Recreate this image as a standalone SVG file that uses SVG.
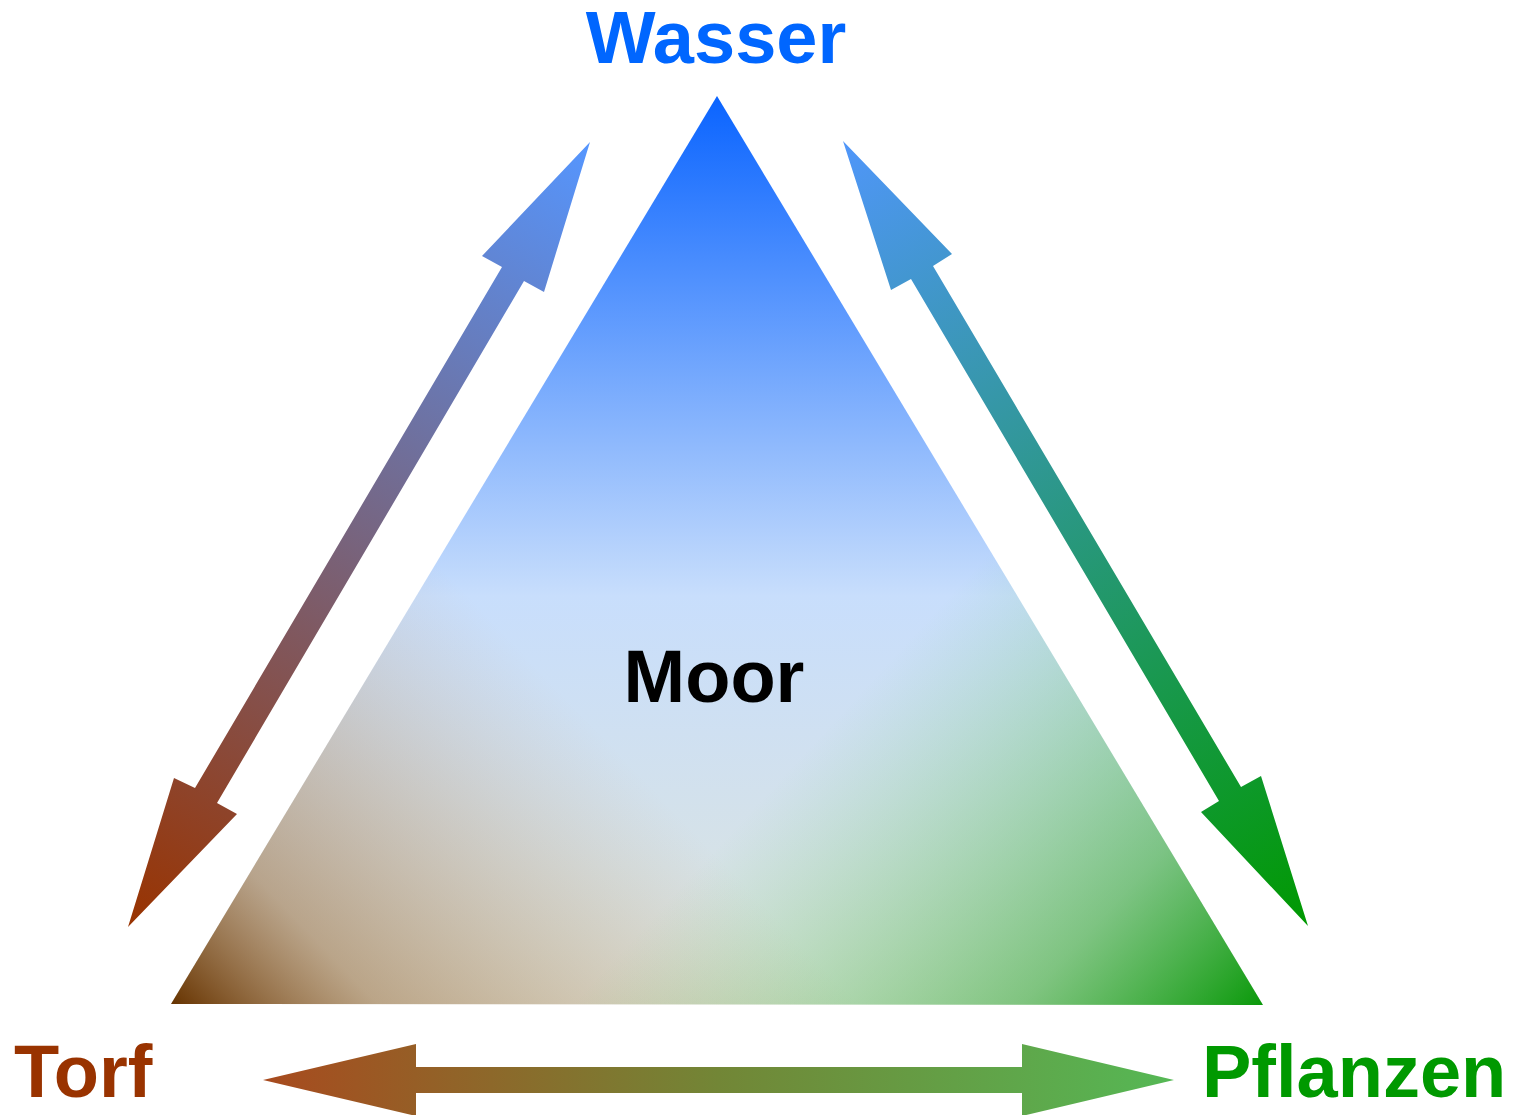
<svg xmlns="http://www.w3.org/2000/svg" width="1516" height="1115" viewBox="0 0 1516 1115">
<style>
.lbl{font-family:"Liberation Sans",Arial,sans-serif;font-weight:bold;font-size:74px}
</style>
<defs>
<linearGradient id="gBase" gradientUnits="userSpaceOnUse" x1="0" y1="96" x2="0" y2="1005">
<stop offset="0" stop-color="#0a64ff"/>
<stop offset="0.55" stop-color="#c8defc"/>
<stop offset="1" stop-color="#dde4dc"/>
</linearGradient>
<linearGradient id="gBrown" gradientUnits="userSpaceOnUse" x1="171" y1="1004" x2="530" y2="660">
<stop offset="0" stop-color="#663300" stop-opacity="1"/>
<stop offset="0.3" stop-color="#996633" stop-opacity="0.5"/>
<stop offset="1" stop-color="#cc9966" stop-opacity="0"/>
</linearGradient>
<linearGradient id="gGreen" gradientUnits="userSpaceOnUse" x1="1263" y1="1005" x2="890" y2="660">
<stop offset="0" stop-color="#0a990a" stop-opacity="1"/>
<stop offset="0.35" stop-color="#33aa33" stop-opacity="0.55"/>
<stop offset="1" stop-color="#66cc66" stop-opacity="0"/>
</linearGradient>
<linearGradient id="gLeft" gradientUnits="userSpaceOnUse" x1="590" y1="142" x2="128" y2="927">
<stop offset="0" stop-color="#5596ff"/>
<stop offset="1" stop-color="#993300"/>
</linearGradient>
<linearGradient id="gRight" gradientUnits="userSpaceOnUse" x1="843" y1="141" x2="1308" y2="926">
<stop offset="0" stop-color="#5096fa"/>
<stop offset="1" stop-color="#009900"/>
</linearGradient>
<linearGradient id="gBottom" gradientUnits="userSpaceOnUse" x1="263" y1="0" x2="1174" y2="0">
<stop offset="0" stop-color="#a84a1e"/>
<stop offset="0.5" stop-color="#728636"/>
<stop offset="1" stop-color="#55b855"/>
</linearGradient>
</defs>
<rect width="1516" height="1115" fill="#ffffff"/>
<g id="moor">
<polygon points="717,96 171,1004 1263,1005" fill="url(#gBase)"/>
<polygon points="717,96 171,1004 1263,1005" fill="url(#gBrown)"/>
<polygon points="717,96 171,1004 1263,1005" fill="url(#gGreen)"/>
<text class="lbl" x="714" y="702" text-anchor="middle" fill="#000000">Moor</text>
</g>
<g id="wasser">
<text class="lbl" x="716" y="63" text-anchor="middle" fill="#0066ff">Wasser</text>
</g>
<g id="torf">
<text class="lbl" x="14" y="1097" fill="#993300">Torf</text>
</g>
<g id="pflanzen">
<text class="lbl" x="1202" y="1097" fill="#009900">Pflanzen</text>
</g>
<g id="connectors">
<polygon points="590,142 544,292 524,281 217,803 237,814 128,927 174,778 195,788 502,267 482,256" fill="url(#gLeft)"/>
<polygon points="843,141 952,254 933,266 1241,787 1261,776 1308,926 1201,812 1219,801 911,279 891,290" fill="url(#gRight)"/>
<polygon points="263,1080 416,1044 416,1067 1022,1067 1022,1044 1174,1080 1022,1116 1022,1093 416,1093 416,1116" fill="url(#gBottom)"/>
</g>
</svg>
